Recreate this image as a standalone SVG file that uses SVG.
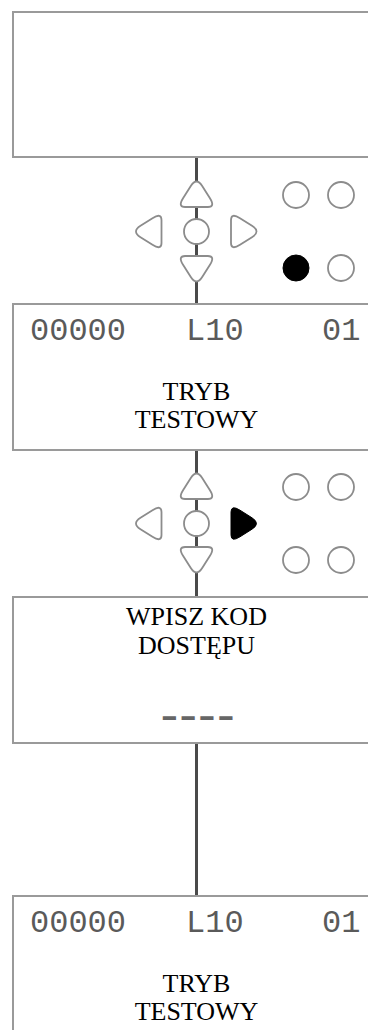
<svg xmlns="http://www.w3.org/2000/svg" width="368" height="1030" viewBox="0 0 368 1030">
<style>
.box{fill:#fff;stroke:#9a9a9a;stroke-width:2}
.conn{stroke:#4a4a4a;stroke-width:3;fill:none}
.key{fill:#fff;stroke:#8c8c8c;stroke-width:1.8}
.on{fill:#000;stroke:#000;stroke-width:1}
.mono{font-family:"Liberation Mono","Courier New",monospace;font-size:32px;fill:#5a5a5a}
.dash{font-family:"Liberation Mono","Courier New",monospace;font-size:48px;fill:#666;letter-spacing:-10px}
.lbl{font-family:"Liberation Serif","Times New Roman",serif;font-size:26px;fill:#000;text-anchor:middle}
</style>
<defs>
<path id="tri" d="M5.7,-8 L13.3,4 Q19,13 11.4,13 L-11.4,13 Q-19,13 -13.3,4 L-5.7,-8 Q0,-17 5.7,-8 Z"/>
</defs>
<g id="connectors">
<line class="conn" x1="196.5" y1="157" x2="196.5" y2="304"/>
<line class="conn" x1="196.5" y1="450" x2="196.5" y2="597"/>
<line class="conn" x1="196.5" y1="743" x2="196.5" y2="896"/>
</g>
<g id="box1"><rect class="box" x="13" y="12" width="370" height="145"/></g>
<g id="box2">
<rect class="box" x="13" y="304" width="370" height="146"/>
<text class="mono" x="30" y="340">00000</text>
<text class="mono" x="186" y="340">L10</text>
<text class="mono" x="322" y="340">01</text>
<text class="lbl" x="196.5" y="400">TRYB</text>
<text class="lbl" x="196.5" y="428">TESTOWY</text>
</g>
<g id="box3">
<rect class="box" x="13" y="597" width="370" height="146"/>
<text class="lbl" x="196.5" y="625">WPISZ KOD</text>
<text class="lbl" x="196.5" y="654">DOSTĘPU</text>
<text class="dash" x="155" y="731">----</text>
</g>
<g id="box4">
<rect class="box" x="13" y="896" width="370" height="160"/>
<text class="mono" x="30" y="932">00000</text>
<text class="mono" x="186" y="932">L10</text>
<text class="mono" x="322" y="932">01</text>
<text class="lbl" x="196.5" y="992">TRYB</text>
<text class="lbl" x="196.5" y="1020">TESTOWY</text>
</g>
<g id="keypad1">
<use href="#tri" class="key" transform="translate(196.5,194)"/>
<use href="#tri" class="key" transform="translate(196.5,269) rotate(180)"/>
<use href="#tri" class="key" transform="translate(148.5,231.5) rotate(-90)"/>
<use href="#tri" class="key" transform="translate(244,231.5) rotate(90)"/>
<circle class="key" cx="196.5" cy="231.5" r="12.5"/>
</g>
<g id="leds1">
<circle class="key" cx="296" cy="195" r="13"/>
<circle class="key" cx="341" cy="195" r="13"/>
<circle class="on" cx="296" cy="268" r="13"/>
<circle class="key" cx="341" cy="268" r="13"/>
</g>
<g id="keypad2" transform="translate(0,292)">
<use href="#tri" class="key" transform="translate(196.5,194)"/>
<use href="#tri" class="key" transform="translate(196.5,268) rotate(180)"/>
<use href="#tri" class="key" transform="translate(148.5,231.5) rotate(-90)"/>
<use href="#tri" class="on" transform="translate(244,231.5) rotate(90)"/>
<circle class="key" cx="196.5" cy="231.5" r="12.5"/>
</g>
<g id="leds2" transform="translate(0,292)">
<circle class="key" cx="296" cy="195" r="13"/>
<circle class="key" cx="341" cy="195" r="13"/>
<circle class="key" cx="296" cy="268" r="13"/>
<circle class="key" cx="341" cy="268" r="13"/>
</g>
</svg>
